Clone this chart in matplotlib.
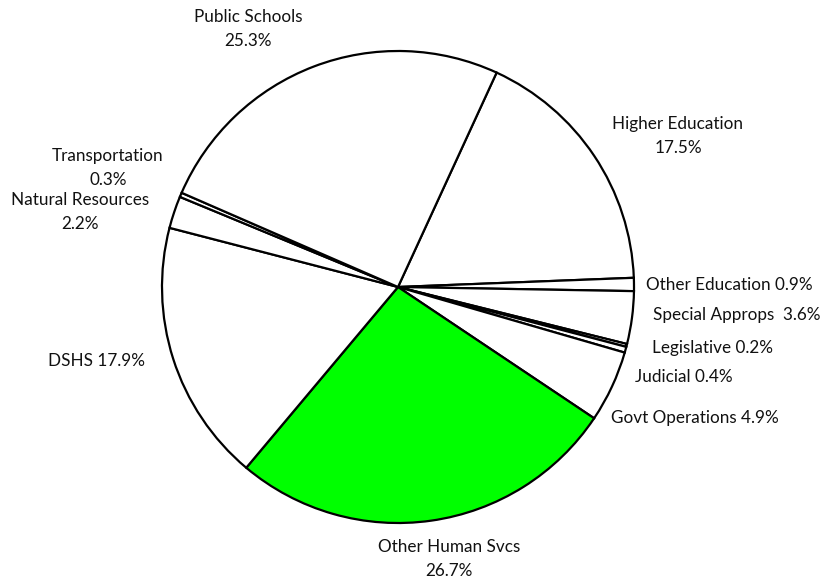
import matplotlib.pyplot as plt

# budget shares, clockwise from the top
names = ['Higher Education', 'Other Education', 'Special Approps', 'Legislative',
         'Judicial', 'Govt Operations', 'Other Human Svcs', 'DSHS',
         'Natural Resources', 'Transportation', 'Public Schools']
shares = [17.5, 0.9, 3.6, 0.2, 0.4, 4.9, 26.7, 17.9, 2.2, 0.3, 25.3]
colors = ['white'] * len(shares)
colors[names.index('Other Human Svcs')] = '#00ff00'

label_text = {
    'Higher Education': 'Higher Education\n17.5%',
    'Other Education': 'Other Education 0.9%',
    'Special Approps': 'Special Approps  3.6%',
    'Legislative': 'Legislative 0.2%',
    'Judicial': 'Judicial 0.4%',
    'Govt Operations': 'Govt Operations 4.9%',
    'Other Human Svcs': 'Other Human Svcs\n26.7%',
    'DSHS': 'DSHS 17.9%',
    'Natural Resources': 'Natural Resources\n2.2%',
    'Transportation': 'Transportation\n0.3%',
    'Public Schools': 'Public Schools\n25.3%',
}
# label centres in pixels (x from left, y from top)
label_pos = {
    'Higher Education': (678, 136),
    'Other Education': (729, 285),
    'Special Approps': (737, 315),
    'Legislative': (712, 348),
    'Judicial': (684, 377),
    'Govt Operations': (695, 418),
    'Other Human Svcs': (449, 559),
    'DSHS': (96, 361),
    'Natural Resources': (80, 212),
    'Transportation': (108, 168),
    'Public Schools': (248, 29),
}

W, H = 836, 580
fig = plt.figure(figsize=(W / 100, H / 100), dpi=100)
ax = fig.add_axes([0, 0, 1, 1])

ax.pie(shares, colors=colors, startangle=65.3, counterclock=False,
       center=(398, H - 287), radius=236, frame=True,
       wedgeprops=dict(edgecolor='black', linewidth=1.6))
ax.set_xlim(0, W)
ax.set_ylim(0, H)
ax.set_aspect('equal')
ax.axis('off')

for n in names:
    x, y = label_pos[n]
    ax.text(x, H - y, label_text[n], ha='center', va='center', multialignment='center',
            fontsize=12.3, family='Lato', color='#111111', linespacing=1.65)

fig.savefig('out.png', dpi=100)
